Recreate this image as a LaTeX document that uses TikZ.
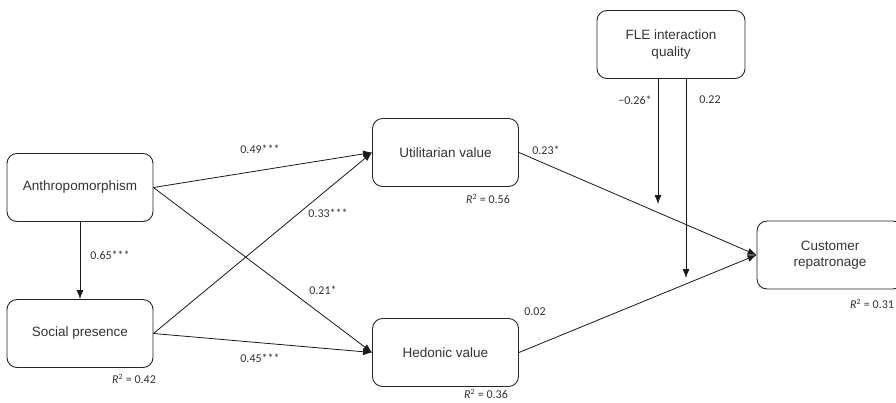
\documentclass[tikz,border=0pt]{standalone}
\usepackage{fontspec}
\setmainfont{Liberation Sans}
\newfontfamily\numfont{Carlito}
\usetikzlibrary{arrows.meta}
\begin{document}
\begin{tikzpicture}[x=1pt,y=-1pt,
  box/.style={draw=black!85, rounded corners=10pt, line width=0.9pt, minimum width=146pt, minimum height=68pt, align=center, font=\fontsize{13.5}{16.5}\selectfont, text=black!80, inner sep=0pt},
  lab/.style={font=\numfont\fontsize{12}{14}\selectfont, text=black!80, inner sep=0pt},
  arr/.style={-{Latex[length=9pt,width=7pt]}, line width=0.8pt, draw=black!90}]
\useasboundingbox (0,0) rectangle (896,402);
% boxes
\node[box] (anth) at (80,187.5) {Anthropomorphism};
\node[box] (soc)  at (80,333.5) {Social presence};
\node[box] (util) at (445.5,152.5) {Utilitarian value};
\node[box] (hed)  at (445.5,352.5) {Hedonic value};
\node[box, minimum width=148pt] (fle) at (671,44.5) {FLE interaction\\quality};
\node[box] (cust) at (830,255) {Customer\\repatronage};
% moderator ends
\coordinate (m1s) at (658,79);
\coordinate (m1e) at (658,204);
\coordinate (m2s) at (686,79);
\coordinate (m2e) at (686,278);
% arrows
\draw[arr] (anth.east) -- (util.west);
\draw[arr] (anth.east) -- (hed.west);
\draw[arr] (soc.east) -- (util.west);
\draw[arr] (soc.east) -- (hed.west);
\draw[arr] (anth.south) -- (soc.north);
\draw[arr] (util.east) -- (cust.west);
\draw[arr] (hed.east) -- (cust.west);
\draw[arr] (m1s) -- (m1e);
\draw[arr] (m2s) -- (m2e);
% path labels
\node[lab] (l1) at (260,149) {0.49***};
\node[lab] (l2) at (328,213) {0.33***};
\node[lab] (l3) at (323,290) {0.21*};
\node[lab] (l4) at (260,358) {0.45***};
\node[lab] (l5) at (110,255) {0.65***};
\node[lab] (l6) at (546,150) {0.23*};
\node[lab] (l7) at (535,312) {0.02};
\node[lab] (l8) at (635,100) {\char"2212 0.26*};
\node[lab] (l9) at (710,100) {0.22};
% R squared
\node[lab] (r1) at (134,379) {{\itshape R}\textsuperscript{2} = 0.42};
\node[lab] (r2) at (488,199) {{\itshape R}\textsuperscript{2} = 0.56};
\node[lab] (r3) at (486,394) {{\itshape R}\textsuperscript{2} = 0.36};
\node[lab, anchor=west] (r4) at (850,304) {{\itshape R}\textsuperscript{2} = 0.31};
\end{tikzpicture}
\end{document}
